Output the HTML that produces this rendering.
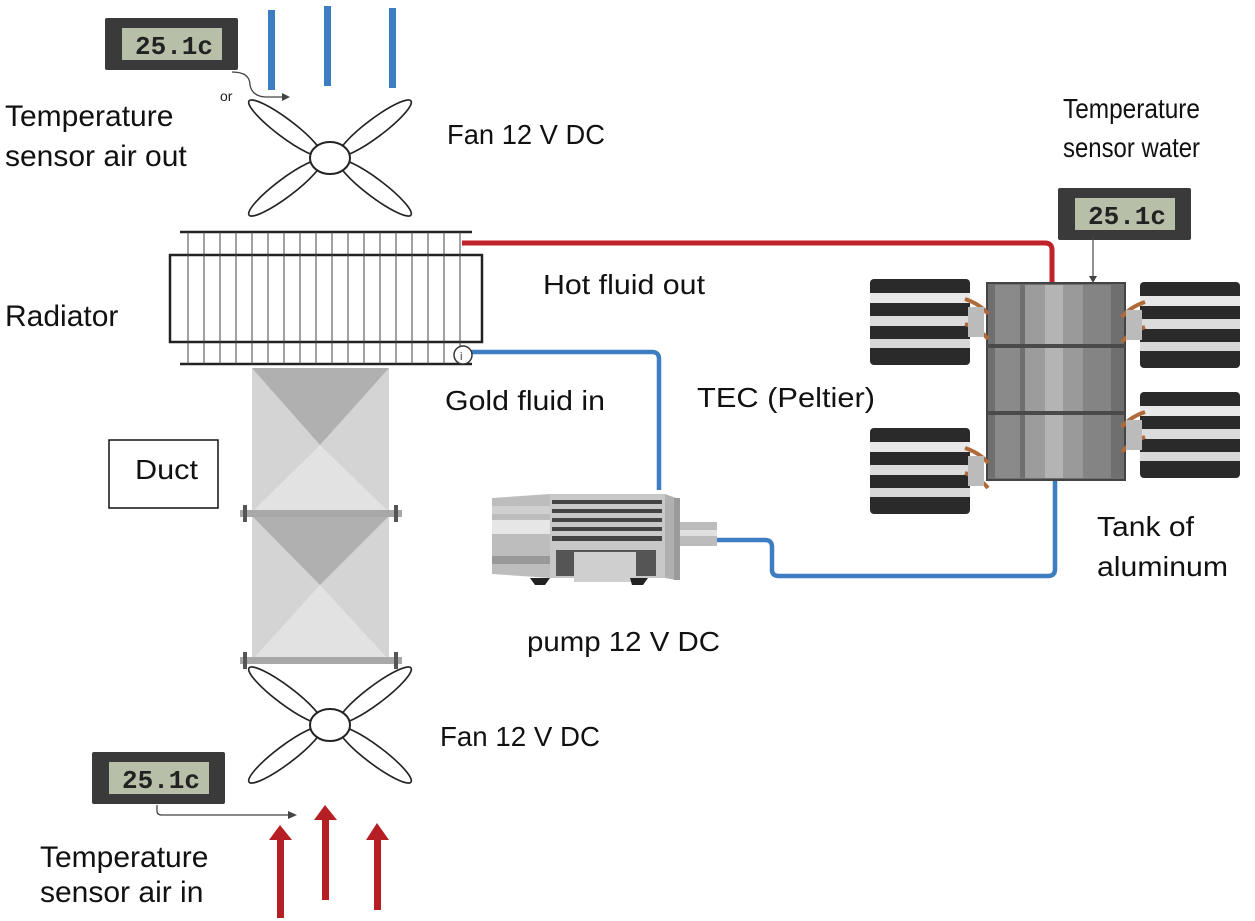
<!DOCTYPE html>
<html><head><meta charset="utf-8"><style>
html,body{margin:0;padding:0;background:#fff;width:1255px;height:921px;overflow:hidden}
svg{display:block}
.a{font-family:"Liberation Sans",sans-serif;font-size:30px;fill:#111}
.c{font-family:"Liberation Sans",sans-serif;font-size:28px;fill:#111}
</style></head><body>
<svg width="1255" height="921" viewBox="0 0 1255 921" xmlns="http://www.w3.org/2000/svg">
<defs>
<g id="sensor">
<rect x="0" y="0" width="133" height="52" fill="#3a3a3a" rx="2"/>
<rect x="17" y="10" width="100" height="32" fill="#b8bfa8"/>
<text x="30" y="36" font-family="Liberation Mono,monospace" font-size="26" font-weight="bold" fill="#222" textLength="78">25.1c</text>
</g>
<g id="sink">
<rect x="0" y="0" width="100" height="86" fill="#2a2a2a" rx="4"/>
<rect x="0" y="14" width="100" height="10" fill="#e8e8e8"/>
<rect x="0" y="37" width="100" height="10" fill="#dcdcdc"/>
<rect x="0" y="60" width="100" height="9" fill="#d8d8d8"/>
<path d="M95 20 Q110 25 118 35 M95 45 Q110 50 118 60" stroke="#b06a3a" stroke-width="4" fill="none"/>
<rect x="98" y="28" width="16" height="30" fill="#bbb"/>
</g>
<g id="fan">
<ellipse cx="-45" cy="-30" rx="45" ry="9" transform="rotate(37 -45 -30)" fill="none" stroke="#222" stroke-width="1.6"/>
<ellipse cx="45" cy="-30" rx="45" ry="9" transform="rotate(-37 45 -30)" fill="none" stroke="#222" stroke-width="1.6"/>
<ellipse cx="-45" cy="30" rx="45" ry="9" transform="rotate(-37 -45 30)" fill="none" stroke="#222" stroke-width="1.6"/>
<ellipse cx="45" cy="30" rx="45" ry="9" transform="rotate(37 45 30)" fill="none" stroke="#222" stroke-width="1.6"/>
<ellipse cx="0" cy="0" rx="20" ry="16" fill="#fff" stroke="#222" stroke-width="2"/>
</g>
</defs>

<rect x="268" y="10" width="7" height="80" fill="#3d7ec2"/>
<rect x="324" y="6" width="7" height="80" fill="#3d7ec2"/>
<rect x="389" y="8" width="7" height="80" fill="#3d7ec2"/>

<use href="#sensor" x="105" y="18"/>
<path d="M232 72 Q250 72 250 85 Q252 96 265 97 L282 97" stroke="#444" stroke-width="1.3" fill="none"/>
<path d="M282 93 L290 97 L282 101 Z" fill="#444"/>
<text x="220" y="101" font-family="Liberation Sans,sans-serif" font-size="14" fill="#222">or</text>

<use href="#fan" x="330" y="158"/>

<g stroke="#222" fill="none">
<line x1="180" y1="232" x2="472" y2="232" stroke-width="2.5"/>
<line x1="180" y1="364" x2="472" y2="364" stroke-width="2.5"/>
<rect x="170" y="255" width="312" height="87" stroke-width="2.5"/>
<g stroke-width="1" stroke="#444">
<path d="M188 232V364M204 232V364M220 232V364M236 232V364M252 232V364M268 232V364M284 232V364M300 232V364M316 232V364M332 232V364M348 232V364M364 232V364M380 232V364M396 232V364M412 232V364M428 232V364M444 232V364M460 232V364"/>
</g>
</g>

<path d="M462 243 H1045 Q1052 243 1052 250 V283" stroke="#c0222a" stroke-width="5" fill="none"/>
<path d="M470 352 H652 Q659 352 659 359 V490" stroke="#3d7ec2" stroke-width="4.5" fill="none"/>
<circle cx="463" cy="355" r="9" fill="#fff" stroke="#333" stroke-width="1.5"/>
<text x="460" y="360" font-family="Liberation Sans,sans-serif" font-size="11" fill="#333">i</text>
<path d="M717 540 H765 Q772 540 772 547 V570 Q772 576 779 576 H1048 Q1055 576 1055 569 V480" stroke="#3d7ec2" stroke-width="4.5" fill="none"/>

<rect x="252" y="368" width="137" height="144" fill="#d4d4d4"/>
<path d="M252 368 H389 L320 445 Z" fill="#b0b0b0"/>
<path d="M252 512 H389 L320 445 Z" fill="#e2e2e2"/>
<rect x="252" y="516" width="137" height="144" fill="#d4d4d4"/>
<path d="M252 516 H389 L320 585 Z" fill="#b0b0b0"/>
<path d="M252 660 H389 L320 585 Z" fill="#e2e2e2"/>
<rect x="240" y="510" width="162" height="7" fill="#a8a8a8"/>
<rect x="240" y="657" width="162" height="7" fill="#a8a8a8"/>
<rect x="243" y="505" width="4" height="17" fill="#555"/><rect x="394" y="505" width="4" height="17" fill="#555"/>
<rect x="243" y="652" width="4" height="17" fill="#555"/><rect x="394" y="652" width="4" height="17" fill="#555"/>

<rect x="109" y="440" width="109" height="68" fill="#fff" stroke="#111" stroke-width="1.5"/>

<path d="M492 498 L550 494 L550 578 L492 574 Z" fill="#bdbdbd"/>
<rect x="492" y="520" width="58" height="14" fill="#e6e6e6"/>
<rect x="492" y="506" width="58" height="8" fill="#d0d0d0"/>
<rect x="492" y="556" width="58" height="8" fill="#999"/>
<rect x="550" y="494" width="115" height="84" fill="#c8c8c8"/>
<g fill="#444"><rect x="552" y="500" width="110" height="4"/><rect x="552" y="509" width="110" height="4"/><rect x="552" y="518" width="110" height="4"/><rect x="552" y="527" width="110" height="4"/><rect x="552" y="536" width="110" height="5"/></g>
<rect x="556" y="550" width="100" height="26" fill="#555"/>
<rect x="574" y="552" width="62" height="30" fill="#cfcfcf"/>
<path d="M665 494 L676 498 L676 580 L665 578 Z" fill="#b0b0b0"/>
<rect x="674" y="498" width="6" height="82" fill="#9a9a9a"/>
<rect x="680" y="522" width="37" height="24" fill="#bcbcbc"/>
<rect x="680" y="530" width="37" height="6" fill="#e0e0e0"/>
<path d="M530 578 L550 578 L545 585 L535 585Z M630 578 L648 578 L643 585 L632 585Z" fill="#222"/>

<rect x="987" y="283" width="138" height="197" fill="#6f6f6f" stroke="#444" stroke-width="2"/>
<rect x="995" y="285" width="25" height="193" fill="#8a8a8a"/>
<rect x="1025" y="285" width="20" height="193" fill="#9c9c9c"/>
<rect x="1045" y="285" width="18" height="193" fill="#b4b4b4"/>
<rect x="1063" y="285" width="20" height="193" fill="#9a9a9a"/>
<rect x="1083" y="285" width="28" height="193" fill="#848484"/>
<rect x="987" y="344" width="138" height="4" fill="#4a4a4a"/>
<rect x="987" y="411" width="138" height="4" fill="#4a4a4a"/>

<use href="#sink" x="870" y="279"/>
<use href="#sink" x="870" y="428"/>
<g transform="translate(1240 282) scale(-1 1)"><use href="#sink"/></g>
<g transform="translate(1240 392) scale(-1 1)"><use href="#sink"/></g>

<use href="#sensor" x="1058" y="188"/>
<line x1="1093" y1="236" x2="1093" y2="278" stroke="#444" stroke-width="1.2"/>
<path d="M1089 276 L1093 283 L1097 276 Z" fill="#444"/>

<use href="#fan" x="330" y="725"/>
<use href="#sensor" x="92" y="752"/>
<path d="M157 805 V811 Q157 815 162 815 H290" stroke="#444" stroke-width="1.3" fill="none"/>
<path d="M288 811 L297 815 L288 819 Z" fill="#444"/>

<g fill="#b51f24">
<rect x="277" y="838" width="7" height="80"/><path d="M269 840 L280 825 L292 840 Z"/>
<rect x="322" y="818" width="7" height="82"/><path d="M314 820 L325 805 L337 820 Z"/>
<rect x="374" y="838" width="7" height="72"/><path d="M366 840 L377 823 L389 840 Z"/>
</g>

<text class="a" x="5" y="126">Temperature</text>
<text class="a" x="5" y="166">sensor air out</text>
<text class="c" x="447" y="144" textLength="158" lengthAdjust="spacingAndGlyphs">Fan 12 V DC</text>
<text class="c" x="1063" y="118" textLength="137" lengthAdjust="spacingAndGlyphs">Temperature</text>
<text class="c" x="1063" y="157" textLength="137" lengthAdjust="spacingAndGlyphs">sensor water</text>
<text class="a" x="5" y="326">Radiator</text>
<text class="c" x="543" y="294" textLength="162" lengthAdjust="spacingAndGlyphs">Hot fluid out</text>
<text class="c" x="445" y="410" textLength="160" lengthAdjust="spacingAndGlyphs">Gold fluid in</text>
<text class="c" x="697" y="407" textLength="178" lengthAdjust="spacingAndGlyphs">TEC (Peltier)</text>
<text class="c" x="135" y="479" textLength="63" lengthAdjust="spacingAndGlyphs">Duct</text>
<text class="c" x="1097" y="536" textLength="97" lengthAdjust="spacingAndGlyphs">Tank of</text>
<text class="c" x="1097" y="576" textLength="131" lengthAdjust="spacingAndGlyphs">aluminum</text>
<text class="c" x="527" y="651" textLength="193" lengthAdjust="spacingAndGlyphs">pump 12 V DC</text>
<text class="c" x="440" y="746" textLength="160" lengthAdjust="spacingAndGlyphs">Fan 12 V DC</text>
<text class="a" x="40" y="867">Temperature</text>
<text class="a" x="40" y="902">sensor air in</text>
</svg>
</body></html>
